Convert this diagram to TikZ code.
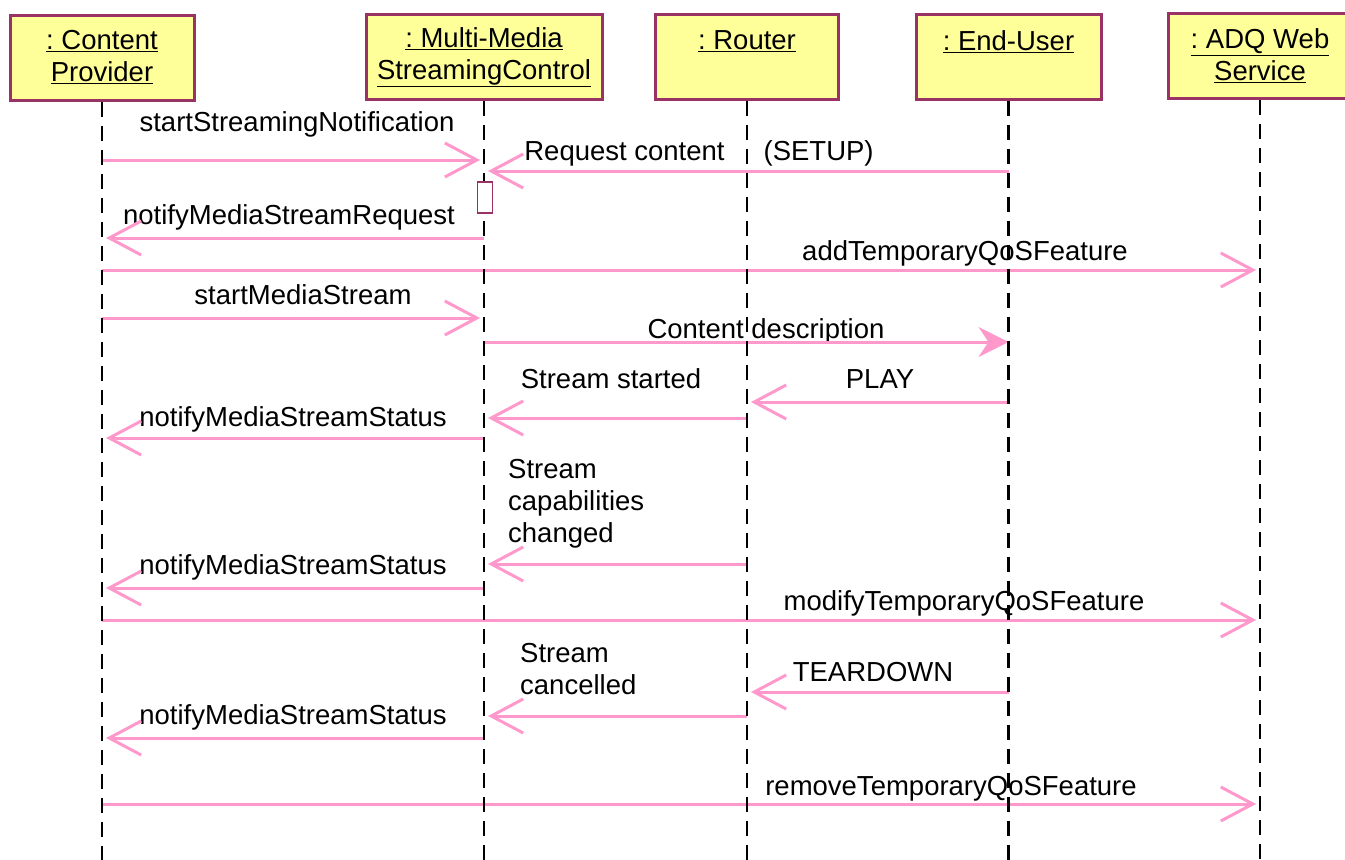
\documentclass[tikz,border=0pt]{standalone}
\usepackage{fontspec}
\setmainfont{Liberation Sans}
\usetikzlibrary{arrows.meta}
\frenchspacing
\definecolor{boxfill}{HTML}{FFFF99}
\definecolor{boxline}{HTML}{993366}
\definecolor{msgpink}{HTML}{FF99CC}
\tikzset{
  obj/.style={rectangle,draw=boxline,fill=boxfill,line width=3pt,align=center,inner sep=0pt,minimum height=85pt},
  life/.style={black,line width=2.5pt,dash pattern=on 15pt off 9pt},
  msg/.style={msgpink,line width=3pt,-{Straight Barb[length=32pt,width=34pt]},shorten >=4pt},
  reply/.style={msgpink,line width=3pt,-{Stealth[length=30pt,width=30pt,inset=10pt]}},
  lbl/.style={anchor=base,inner sep=0pt},
  lblml/.style={anchor=north west,inner sep=0pt,align=left},
}
\begin{document}
\begin{tikzpicture}[x=1pt,y=-1pt,font=\fontsize{27.5}{32}\selectfont]
  \useasboundingbox (0,0) rectangle (1345,860);
  %Nodes
  \node at (102,57.5) [obj,minimum width=184pt] (cp) {\underline{: Content}\\\underline{Provider}};
  \node at (484,57) [obj,minimum width=236pt] (mmsc) {\underline{: Multi-Media}\\\underline{StreamingControl}};
  \node at (747,56.5) [obj,minimum width=183pt] (router) {\underline{: Router}\\\mbox{}};
  \node at (1008.5,56.5) [obj,minimum width=185pt] (enduser) {\underline{: End-User}\\\mbox{}};
  \node at (1260,55.5) [obj,minimum width=184pt] (adq) {\underline{: ADQ Web}\\\underline{Service}};

  %Labels
  \node at (297,131) [lbl] (startnote) {startStreamingNotification};
  \node at (699,160) [lbl] (request) {Request content\hspace{39pt}(SETUP)};
  \node at (289,224) [lbl] (notifyreq) {notifyMediaStreamRequest};
  \node at (965,260) [lbl] (addqos) {addTemporaryQoSFeature};
  \node at (303,304) [lbl] (startms) {startMediaStream};
  \node at (766,338) [lbl] (descr) {Content description};
  \node at (611,388) [lbl] (started) {Stream started};
  \node at (880,388) [lbl] (play) {PLAY};
  \node at (293,426) [lbl] (status1) {notifyMediaStreamStatus};
  \node at (508,459) [lblml] (capab) {Stream\\capabilities\\changed};
  \node at (293,574) [lbl] (status2) {notifyMediaStreamStatus};
  \node at (964,610) [lbl] (modqos) {modifyTemporaryQoSFeature};
  \node at (520,643) [lblml] (cancel) {Stream\\cancelled};
  \node at (873,681) [lbl] (teardown) {TEARDOWN};
  \node at (293,724) [lbl] (status3) {notifyMediaStreamStatus};
  \node at (951,795) [lbl] (remqos) {removeTemporaryQoSFeature};

  %Lines
  \draw[msg] (cp |- 0,160) -- (mmsc |- 0,160);
  \draw[msg] (enduser |- 0,171) -- (mmsc |- 0,171);
  \draw[msg] (mmsc |- 0,238) -- (cp |- 0,238);
  \draw[msg] (cp |- 0,270) -- (adq |- 0,270);
  \draw[msg] (cp |- 0,318) -- (mmsc |- 0,318);
  \draw[reply] (mmsc |- 0,342) -- (enduser |- 0,342);
  \draw[msg] (enduser |- 0,402) -- (router |- 0,402);
  \draw[msg] (router |- 0,418) -- (mmsc |- 0,418);
  \draw[msg] (mmsc |- 0,438) -- (cp |- 0,438);
  \draw[msg] (router |- 0,564) -- (mmsc |- 0,564);
  \draw[msg] (mmsc |- 0,588) -- (cp |- 0,588);
  \draw[msg] (cp |- 0,620) -- (adq |- 0,620);
  \draw[msg] (enduser |- 0,692) -- (router |- 0,692);
  \draw[msg] (router |- 0,716) -- (mmsc |- 0,716);
  \draw[msg] (mmsc |- 0,738) -- (cp |- 0,738);
  \draw[msg] (cp |- 0,804) -- (adq |- 0,804);

  \foreach \obj in {cp,mmsc,router,enduser,adq}
    \draw[life] (\obj.south) -- (\obj |- 0,860);

  \node at (485,197.5) [rectangle,draw=boxline,fill=white,line width=1.5pt,minimum width=15pt,minimum height=31pt,inner sep=0pt] (act) {};
\end{tikzpicture}
\end{document}
